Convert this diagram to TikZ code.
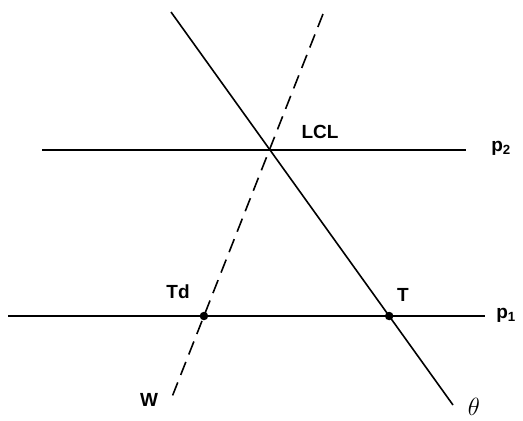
\documentclass[tikz,border=0pt]{standalone}
\usepackage{fontspec}
\setmainfont{Liberation Sans}
\usetikzlibrary{intersections}
\begin{document}
\begin{tikzpicture}[x=1pt,y=-1pt,
  ln/.style={line width=1.6pt},
  dsh/.style={line width=1.6pt,dash pattern=on 14pt off 8pt},
  lbl/.style={font=\fontsize{19}{19}\selectfont\bfseries},
  dotnode/.style={circle,fill=black,inner sep=0pt,minimum size=8.5pt}]
\useasboundingbox (0,0) rectangle (523,421);
\coordinate (thA) at (171,12);
\coordinate (thB) at (453,405);
\coordinate (wA) at (323,14);
\coordinate (wB) at (172,397);
\coordinate (p2A) at (42,150);
\coordinate (p2B) at (466,150);
\coordinate (p1A) at (8,316);
\coordinate (p1B) at (485,316);
\draw[ln,name path=theta] (thA) -- (thB);
\draw[dsh,name path=wline] (wA) -- (wB);
\draw[ln] (p2A) -- (p2B);
\draw[ln,name path=pone] (p1A) -- (p1B);
\path[name intersections={of=theta and pone,by=Tpt}];
\path[name intersections={of=wline and pone,by=Tdpt}];
\node[dotnode] (T) at (Tpt) {};
\node[dotnode] (Td) at (Tdpt) {};
\node[lbl] (lcl) at (320,132) {LCL};
\node[lbl] (p2) at (501,148) {p\textsubscript{2}};
\node[lbl] (p1) at (506,315) {p\textsubscript{1}};
\node[lbl] (tdl) at (178,292) {Td};
\node[lbl] (tl) at (403,295) {T};
\node[lbl] (wl) at (149,400) {W};
\node[font=\fontsize{27}{27}\selectfont] (thl) at (474,407) {$\theta$};
\end{tikzpicture}
\end{document}
